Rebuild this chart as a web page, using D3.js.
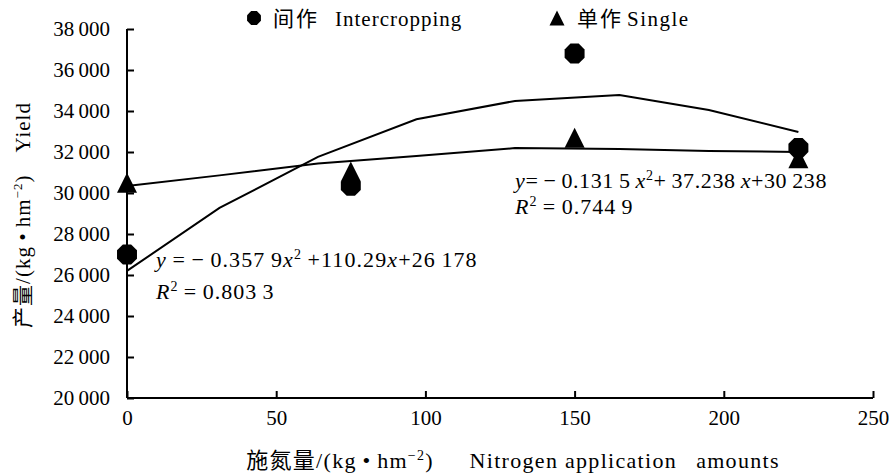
<!doctype html>
<html>
<head>
    <meta charset="UTF-8">
    <title>yield-nitrogen</title>
    <script src="https://d3js.org/d3.v7.min.js"></script>
    <style>
        body{ margin:0; background:#fff; }
        text{ font-family:"Liberation Serif","Times New Roman","Noto Sans CJK SC",serif; fill:#000; }
    </style>
</head>
<body>
    <div id="chart"></div>

    <script>
        // measured points
        var nitrogen = [0, 75, 150, 225];
        var intercrop = [27000, 30350, 36800, 32200];
        var single = [30500, 31050, 32700, 31700];

        // trend lines, vertices
        var trendX = [0, 31, 64, 97, 130, 165, 195, 225];
        var trendInter = [26200, 29270, 31760, 33600, 34490, 34780, 34050, 32980];
        var trendSingle = [30340, 30860, 31440, 31800, 32190, 32150, 32050, 32000];

        var xTicks = [0, 50, 100, 150, 200, 250];
        var yTicks = [20000, 22000, 24000, 26000, 28000, 30000, 32000, 34000, 36000, 38000];

        var w = 889, h = 475;
        var pLeft = 127, pRight = 873, pTop = 29, pBottom = 398;

        var svg = d3.select("#chart").append("svg")
                    .attr("width", w)
                    .attr("height", h);

        var x = d3.scaleLinear().domain([0, 250]).range([pLeft, pRight]);
        var y = d3.scaleLinear().domain([20000, 38000]).range([pBottom, pTop]);

        var fmt = function(d){
            return d3.format(",")(d).replace(",", "\u2009");
        };

//      axes -----------------------------------
        var yAxis = d3.axisLeft(y).tickValues(yTicks).tickSize(-7).tickPadding(17).tickFormat(fmt);
        var gy = svg.append("g").attr("transform", "translate(" + pLeft + ",0)").call(yAxis);
        gy.selectAll("text").style("font-size", "21px").attr("dy", "0.33em");

        var xAxis = d3.axisBottom(x).tickValues(xTicks).tickSize(-7).tickPadding(12);
        var gx = svg.append("g").attr("transform", "translate(0," + pBottom + ")").call(xAxis);
        gx.selectAll("text").style("font-size", "21px");

        svg.selectAll(".domain").attr("stroke", "#000").attr("stroke-width", 2);
        svg.selectAll(".tick line").attr("stroke", "#000").attr("stroke-width", 2);
        gy.select(".domain").attr("d", "M0," + pTop + "V" + pBottom);
        gx.select(".domain").attr("d", "M" + pLeft + ",0H" + pRight);

//      trend lines -----------------------------------
        var line = d3.line()
                     .x(function(d){ return x(d[0]); })
                     .y(function(d){ return y(d[1]); });

        [trendInter, trendSingle].forEach(function(t){
            svg.append("path")
               .datum(d3.zip(trendX, t))
               .attr("d", line)
               .attr("fill", "none")
               .attr("stroke", "#000")
               .attr("stroke-width", 2);
        });

//      markers -----------------------------------
        function octagon(cx, cy, r){
            var pts = d3.range(8).map(function(i){
                var a = Math.PI / 8 + i * Math.PI / 4;
                return [cx + r * Math.cos(a), cy + r * Math.sin(a)];
            });
            return "M" + pts.join("L") + "Z";
        }
        function triangle(cx, cy, s){
            return "M" + cx + "," + (cy - s * 0.5) +
                   "L" + (cx + s * 0.5) + "," + (cy + s * 0.5) +
                   "L" + (cx - s * 0.5) + "," + (cy + s * 0.5) + "Z";
        }

        svg.selectAll("path.tri")
           .data(d3.zip(nitrogen, single))
           .enter().append("path")
           .attr("class", "tri")
           .attr("d", function(d){ return triangle(x(d[0]), y(d[1]), 20); })
           .attr("fill", "#000");

        svg.selectAll("path.oct")
           .data(d3.zip(nitrogen, intercrop))
           .enter().append("path")
           .attr("class", "oct")
           .attr("d", function(d){ return octagon(x(d[0]), y(d[1]), 10.8); })
           .attr("fill", "#000");

//      legend -----------------------------------
        function label(xp, yp, s, ls){
            return svg.append("text").attr("x", xp).attr("y", yp)
                      .style("font-size", "21px").style("letter-spacing", ls + "px").text(s);
        }
        svg.append("path").attr("d", octagon(254, 18, 7.5)).attr("fill", "#000");
        label(273, 26, "间作", 2);
        label(335, 26, "Intercropping", 1);

        svg.append("path").attr("d", triangle(557, 18, 15)).attr("fill", "#000");
        label(577, 26, "单作", 2);
        label(627, 26, "Single", 1.5);

//      equations -----------------------------------
        function eq(xp, yp, ls, parts){
            var t = svg.append("text").attr("x", xp).attr("y", yp)
                       .style("font-size", "22px").style("letter-spacing", ls + "px");
            parts.forEach(function(p){
                var s = t.append("tspan").text(p[0]);
                if(p[1] == "i") s.style("font-style", "italic");
                if(p[1] == "sup") s.attr("dy", -8).style("font-size", "14px");
                if(p[1] == "end") s.attr("dy", 8);
            });
        }

        eq(156, 267, 1.1, [["y", "i"], ["\u2009=\u2009\u2212\u20090.357\u20099"], ["x", "i"], ["2", "sup"], ["\u2009+110.29", "end"], ["x", "i"], ["+26\u2009178"]]);
        eq(156, 299, 1, [["R", "i"], ["2", "sup"], ["\u2009=\u20090.803\u20093", "end"]]);

        eq(515, 188, 0.6, [["y", "i"], ["=\u2009\u2212\u20090.131\u20095\u2009"], ["x", "i"], ["2", "sup"], ["+\u200937.238\u2009", "end"], ["x", "i"], ["+30\u2009238"]]);
        eq(515, 214, 1, [["R", "i"], ["2", "sup"], ["\u2009=\u20090.744\u20099", "end"]]);

//      axis titles -----------------------------------
        var yt = svg.append("text")
                    .attr("transform", "translate(30,215) rotate(-90)")
                    .attr("text-anchor", "middle")
                    .style("font-size", "21px")
                    .style("letter-spacing", "1px");
        yt.append("tspan").text("产量/(kg\u2009•\u2009hm");
        yt.append("tspan").attr("dy", -8).style("font-size", "13px").text("\u22122");
        yt.append("tspan").attr("dy", 8).text(")\u2003Yield");

        var xt = svg.append("text")
                    .attr("x", 513).attr("y", 468)
                    .attr("text-anchor", "middle")
                    .style("font-size", "22px")
                    .style("letter-spacing", "1.3px");
        xt.append("tspan").text("施氮量/(kg\u2009•\u2009hm");
        xt.append("tspan").attr("dy", -8).style("font-size", "14px").text("\u22122");
        xt.append("tspan").attr("dy", 8).text(")\u2003\u2002Nitrogen application\u2002 amounts");
    </script>
</body>
</html>
